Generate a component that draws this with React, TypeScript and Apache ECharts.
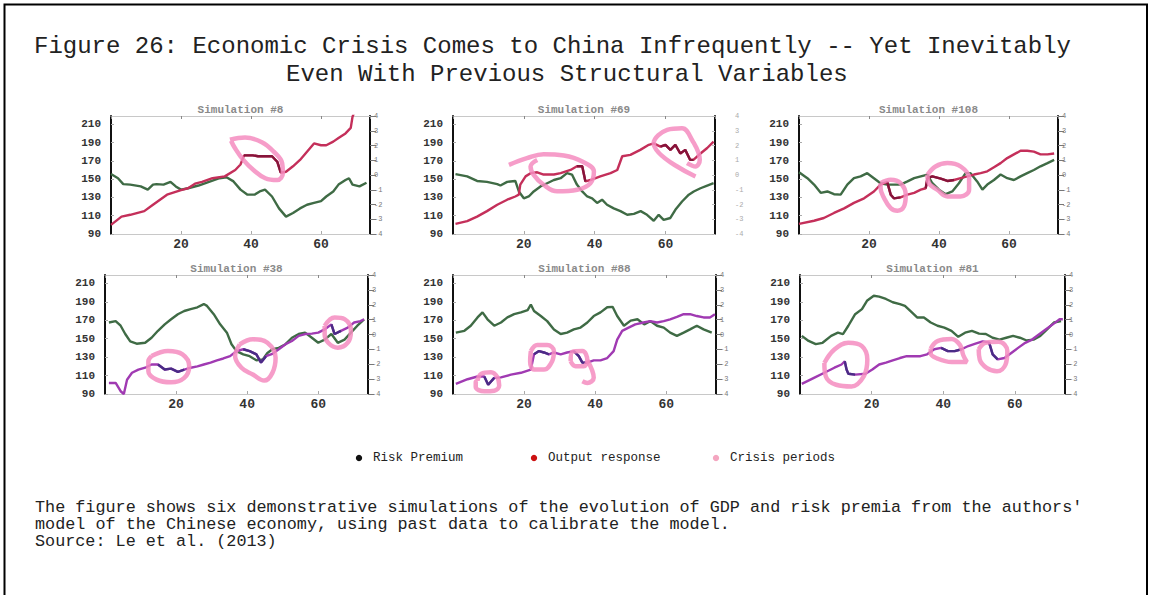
import React, { useEffect, useRef } from "react";
import * as echarts from "echarts";

const FONT = "'Liberation Mono', 'Courier New', monospace";

const titleLines = [
  "Figure 26: Economic Crisis Comes to China Infrequently -- Yet Inevitably",
  "Even With Previous Structural Variables",
];
const captionLines = [
  "The figure shows six demonstrative simulations of the evolution of GDP and risk premia from the authors'",
  "model of the Chinese economy, using past data to calibrate the model.",
  "Source: Le et al. (2013)",
];
const legendLabels = ["Risk Premium", "Output response", "Crisis periods"];
const panelTitles = [
  "Simulation #8",
  "Simulation #69",
  "Simulation #108",
  "Simulation #38",
  "Simulation #88",
  "Simulation #81",
];
const leftTicks = [90, 110, 130, 150, 170, 190, 210];
const rightTicks = [-4, -3, -2, -1, 0, 1, 2, 3, 4];
const xTicks = [20, 40, 60];

// ---- Simulation #8 ----
const sim1Risk = [[0,155.5],[2,151],[3.5,144.5],[5.5,144],[8.5,142],[10.5,138.5],[12,144],[13,144.5],[15,144],[17,147],[18.5,142],[20,138.5],[22,140],[25,143],[28,147],[31,151],[33,152],[35,147.5],[37,138.5],[39,133],[41,133],[42.5,136.5],[44,138.5],[46,131],[48,118],[50,109],[52,113],[54,118],[56,122],[58,124],[60,126],[61.5,131],[63.5,136.5],[65,144],[67,149],[68,151],[69,144],[71,142],[73,146]];
const sim1Output = [[0,100],[3,109],[5.5,111],[9.5,115],[12,122],[16,133],[20,138],[22,140],[24,145],[26,147],[29,151],[32.5,153],[35.5,160],[37,166],[38,176],[40.5,176],[42,175],[46,175],[47.5,169],[48.5,157],[50,158],[52,164],[54,171],[56,180],[58,189],[60,187],[61.5,187],[63.5,191],[65,195],[67,200],[68.5,206],[69,218],[70,228]];
const sim1Crisis = [
  [[34,193],[38.3,195.5],[43.1,190.4],[46.5,180],[48.9,167.5],[49.1,156.5],[47.5,149],[44.1,151],[40.7,160],[37.8,171],[35.4,184],[34.3,192]],
];
const sim1CrisisRanges = [[38, 48.5]];

// ---- Simulation #69 ----
const sim2Risk = [[0.7,155.5],[4,153],[6.8,148],[9.6,147],[12.5,144.5],[13.4,143],[15.3,147],[17.6,148],[18.6,136.5],[20,129],[21.4,131],[22.8,136.5],[24.7,142],[26.6,145.5],[28.5,149],[30.4,151],[32.2,156.5],[33.6,155],[35,144],[36.5,136.5],[37.9,131],[39.3,129],[40.7,124],[42.1,127.5],[43.5,122],[45.4,118],[47.3,115],[49.2,111],[51.1,112],[53,115],[54.8,111],[56.7,104.5],[58.1,111],[59.5,105.5],[61.4,107.5],[62.8,116.5],[64.7,125.5],[66.6,133],[68,136.5],[69.9,140],[71.8,143],[73.6,145.5]];
const sim2Output = [[0.7,101],[4,104],[6.8,109],[9.6,115],[12.5,122],[15.3,127.5],[17.6,131],[18.6,133],[19,144],[20.5,153],[21.9,156.5],[23.8,157.5],[25.6,155],[28.5,155],[30.4,156.5],[33.2,160],[35,164],[36.5,164],[37.4,147.5],[38.8,149],[41.6,153],[44.5,156.5],[46.4,160],[47.8,175],[50.1,176.5],[52.9,182],[55.3,187.5],[56.7,189],[58.6,185.5],[60,187.5],[61.4,182],[62.8,187.5],[64.2,178],[65.6,182],[67,171],[67.9,171],[69.9,178],[71.8,184],[73.6,191]];
const sim2Crisis = [
  [[15.8,165.6],[20.9,172.9],[25.6,177.3],[31.3,175.8],[36.5,169.3],[39.8,158.4],[38.8,145.6],[35.1,138.4],[29.4,136.6],[25.6,143.8],[22.8,154.7],[21.9,163.8],[23.8,171]],
  [[68.5,152.9],[56.7,189.3],[60.5,203.8],[64.7,205.6],[67.5,192.9],[69.7,171.1],[68.5,163.8],[66.1,167.5]],
];
const sim2CrisisRanges = [[35, 37.4], [58.6, 67.9]];

// ---- Simulation #108 ----
const sim3Risk = [[0,157.5],[2.4,151],[4.3,144],[6.2,135],[8.1,136.5],[10,133.5],[11.9,133],[13.8,144],[15.7,151],[17.6,153],[19.5,156.5],[21.4,151],[23.3,145.5],[25.2,144],[27.1,144],[29,144],[31,147.5],[32.9,151],[34.8,153],[36.7,155],[38.1,145.5],[40,138.5],[41.9,133.5],[43.8,136.5],[45.7,145.5],[47.6,156.5],[49,156.5],[50.9,147.5],[52.4,138.5],[53.8,144],[55.7,149],[57.6,155],[59.5,151],[61.4,149],[63.3,153],[65.2,156.5],[67.1,160],[69,164],[71,167.5],[72.9,171]];
const sim3Output = [[0,101],[4.3,104.5],[7.1,107.5],[10,113],[12.9,118],[15.7,124],[18.6,129],[21.4,136.5],[23.3,144],[25.2,147],[26.2,133],[27.1,129],[29,130],[31,133],[32.9,135],[34.8,138.5],[36.2,140],[36.7,151],[38.1,153],[40.5,150.5],[42.4,148],[44.3,149],[46.2,151],[48.1,153],[50,155],[51.9,156.5],[53.8,158.5],[55.7,163],[57.6,167.5],[59.5,173],[61.4,177],[63.3,181],[65.2,181],[67.1,180],[69,177],[71,177],[72.9,178]];
const sim3Crisis = [
  [[23.3,145.6],[26.2,149.3],[29,145.6],[30.5,132.9],[30,120.2],[28.1,115.5],[26.2,118.4],[24.3,129.3],[23.3,140.2],[23.3,145.6]],
  [[36.7,154.7],[39,163.8],[42.4,167.5],[46.2,163.8],[48.6,151.1],[48.6,138.4],[46.2,131.1],[42.4,131.1],[39.5,138.4],[37.1,145.6],[36.7,154.7]],
];
const sim3CrisisRanges = [[25.2, 29], [36.2, 44.3]];

// ---- Simulation #38 ----
const sim4Risk = [[1.1,167.5],[3,169],[4.4,164],[5.7,155],[7.1,147],[8.9,144.5],[11.3,145.5],[13.1,151],[14.9,158.5],[16.8,165.5],[18.6,171],[20.5,176.5],[22.3,180],[24.1,182],[26,184],[27.8,187.5],[28.7,185.5],[30.6,176.5],[32.4,165.5],[34.3,156.5],[35.6,144],[37,136.5],[38.9,133],[40.7,131],[42.6,126.5],[44.4,127.5],[45.7,134.5],[47.1,138.5],[48.9,140],[50.8,144],[52.6,151],[54.5,155],[56.3,156.5],[58.2,151],[60,145.5],[61.8,149],[63.7,155],[65.5,145.5],[67.4,149],[69.2,156.5],[71,164],[72.9,171]];
const sim4Output = [[1.1,102],[3,102],[4.4,93],[5.3,90],[6.2,105.5],[7.6,113],[9.4,116.5],[11.3,118.5],[13.1,122],[14.9,122],[16.8,116.5],[18.6,117.5],[20.5,114],[22.3,116.5],[24.1,118.5],[26,120],[27.8,122],[29.7,124],[31.5,126.5],[33.3,128.5],[35.2,131],[37,136.5],[38.9,138.5],[40.7,136.5],[42.6,133],[43.9,124],[45.3,131],[47.1,133.5],[48.9,138.5],[50.8,144],[52.6,147.5],[54.5,153],[56.3,155],[58.2,155.5],[60,156.5],[61.8,160],[63.7,165.5],[64.6,155],[66.4,158.5],[68.3,162],[70.1,167.5],[71.9,169],[72.9,171]];
const sim4Crisis = [
  [[13.1,131.1],[17.7,136.5],[21.8,132.9],[23.7,120.2],[22.3,107.5],[18.6,102.7],[14.5,105.6],[12.2,114.7],[12.2,125.6],[13.1,131.1]],
  [[37.9,143.8],[41.6,149.3],[45.7,145.6],[48,129.3],[47.1,112.9],[44.8,104.5],[41.6,111.1],[38.4,118.4],[36.6,131.1],[37.9,143.8]],
  [[61.8,163.8],[64.6,172.9],[67.4,171.1],[69.2,158.4],[68.3,145.6],[65.5,140.2],[62.8,145.6],[61.8,154.7],[61.8,163.8]],
];
const sim4CrisisRanges = [[14.9, 22.3], [38.9, 45.3], [63.7, 66.4]];

// ---- Simulation #88 ----
const sim5Risk = [[0.8,156.5],[3.2,158.5],[5,164],[6.9,173],[8.3,178.5],[9.7,171],[11.6,164],[13.5,167.5],[15.3,173],[17.2,176.5],[19.1,178.5],[21,181],[21.9,187],[22.8,180],[24.7,174.5],[26.5,169],[28.4,160],[30.3,155],[32.1,156.5],[34,160],[35.9,162],[37.8,167.5],[39.6,174.5],[41.5,178.5],[43.4,184],[44.9,184.5],[46.2,174.5],[48.1,164],[50,169.5],[51.9,171],[53.8,165.5],[55.5,169],[57.4,164],[59.3,162],[61.1,156.5],[63,153],[64.9,156.5],[66.7,160],[68.6,164],[70.5,160],[72.8,156.5]];
const sim5Output = [[0.8,101],[4.1,106],[6.9,109],[8.8,109],[9.9,100],[11.6,107.5],[13.5,108],[16.3,111],[19.1,113],[21.9,116.5],[22.8,133],[24.2,136.5],[25.6,135],[27,133],[28.4,135],[30.3,133],[32.1,135],[34,136.5],[35.4,131],[36.4,124],[37.8,124],[39.6,126.5],[41.5,126.5],[43.4,129],[45.2,136.5],[46.2,149],[47.6,158.5],[49.4,162],[51.3,165.5],[53.6,167.5],[55.5,169],[57.4,167.5],[59.3,169],[61.1,171],[63,173.5],[64.9,176.5],[66.7,176.5],[68.6,174.5],[70.5,173],[72.3,173],[73.7,176.5]];
const sim5Crisis = [
  [[6.9,104.5],[7.9,111.8],[10.7,113.6],[12.5,108.2],[13,99.1],[11.6,93.6],[8.8,92.9],[6.4,97.5],[6.4,103],[6.9,104.5]],
  [[21.9,136.6],[23.7,143.1],[26.5,143.1],[28.4,136.6],[27.9,125.6],[25.6,116.6],[22.8,116.6],[21.7,125.6],[21.9,136.6]],
  [[33.1,125.6],[33.6,135.8],[36.4,136.6],[37.8,126.4],[36.8,120.2],[34.5,120.2],[33.1,125.6]],
  [[37.8,126.4],[39.6,107.5],[37.8,102],[36.4,103.8]],
];
const sim5CrisisRanges = [[8.8, 11.6], [22.8, 27], [34, 37.8]];

// ---- Simulation #81 ----
const sim6Risk = [[0.5,153],[2.4,147.5],[4.4,144],[6.3,145.5],[8.7,153],[10.6,156.5],[12,155],[13.5,164],[15.4,176.5],[17.3,182],[18.7,191],[20.6,196.5],[22.1,195.5],[24,193],[25.9,189.5],[27.9,187.5],[29.3,185.5],[30.8,180],[32.7,173],[34.6,173],[36.5,167.5],[38.4,164],[40.3,162],[42.3,158.5],[44.2,152],[46.1,156.5],[48,158.5],[50,155.5],[51.9,155],[53.8,151],[55.7,149],[57.6,151],[59.5,153],[61.4,151],[63.3,148],[65.2,149],[67.1,153],[69,160],[70.9,167.5],[72.9,169]];
const sim6Output = [[0.5,101],[3.9,107.5],[6.8,113],[9.6,118.5],[11.6,122],[12.5,125.5],[13,116.5],[13.5,112],[15.4,111],[18.3,112],[20.2,116.5],[22.1,122],[24,124],[25.9,126.5],[27.9,129],[29.8,131],[31.7,131],[33.6,131],[35.5,133],[37.5,138.5],[39.4,140],[41.3,136.5],[43.2,136.5],[45.1,138.5],[47,142],[49,144.5],[51,147],[52.8,146],[53.8,133],[55.2,127.5],[57.1,129],[59,134.5],[60.9,140],[62.9,145.5],[64.8,149],[66.7,154.5],[68.6,160],[70.6,165.5],[72.5,171],[73.4,171]];
const sim6Crisis = [
  [[6.8,123.6],[9.6,138.2],[13.5,145.5],[17.3,141.9],[18.8,127.3],[17.8,109.1],[14.4,98.2],[10.1,100],[7.2,109.1],[6.8,123.6]],
  [[36.5,139.3],[38.4,147.3],[42.3,149.5],[44.7,142.9],[45.6,132],[46.6,124.7],[42.3,124.7],[38.4,128.4],[36.5,133.8],[36.5,139.3]],
  [[49.9,138.4],[51.8,145.6],[55.5,146.7],[57.9,136.6],[57.4,122],[55,114.7],[52.1,118.4],[50.2,127.3],[49.9,138.4]],
];
const sim6CrisisRanges = [[12.5, 15.4], [39.4, 45.1], [52.8, 55.2]];

const riskSeries = [sim1Risk, sim2Risk, sim3Risk, sim4Risk, sim5Risk, sim6Risk];
const outputSeries = [sim1Output, sim2Output, sim3Output, sim4Output, sim5Output, sim6Output];
const crisisSeries = [sim1Crisis, sim2Crisis, sim3Crisis, sim4Crisis, sim5Crisis, sim6Crisis];
const crisisRanges = [sim1CrisisRanges, sim2CrisisRanges, sim3CrisisRanges, sim4CrisisRanges, sim5CrisisRanges, sim6CrisisRanges];

// layout (pixels) for each panel
const layout = [
  { left: 111, top: 116, width: 259, height: 118 },
  { left: 453, top: 116, width: 262, height: 118 },
  { left: 799, top: 116, width: 259, height: 118 },
  { left: 105, top: 275, width: 263, height: 119 },
  { left: 453, top: 275, width: 263, height: 119 },
  { left: 800, top: 275, width: 265, height: 119 },
];

const GREEN = "#3f6b45";
const RED = "#c42f5a";
const DARK_RED = "#86143a";
const PURPLE = "#a03ab2";
const DARK_PURPLE = "#4a2c86";
const PINK = "#f58cbf";

function txt(text: string, x: number, y: number, fontSize: number, fill: string, align = "left", weight = "normal") {
  return {
    type: "text", x, y, silent: true,
    style: {
      text, fontFamily: FONT, fontSize, fontWeight: weight, fill,
      align, verticalAlign: "middle", textAlign: align, textVerticalAlign: "middle",
    },
  };
}

function buildOption() {
  const grid: any[] = [];
  const xAxis: any[] = [];
  const yAxis: any[] = [];
  const series: any[] = [];
  const graphic: any[] = [];

  graphic.push({
    type: "polyline",
    shape: { points: [[4.5, 600], [4.5, 4.5], [1147, 4.5], [1147, 600]] },
    style: { stroke: "#000", lineWidth: 2, fill: null },
    silent: true,
  });
  graphic.push(txt(titleLines[0], 34, 46, 24, "#222"));
  graphic.push(txt(titleLines[1], 286, 74, 24, "#222"));

  const legendColors = ["#111", "#cc1111", "#f4a6c0"];
  const legendX = [359, 534, 716];
  legendLabels.forEach((lab, i) => {
    graphic.push({ type: "circle", silent: true, shape: { cx: legendX[i], cy: 458, r: 3.2 }, style: { fill: legendColors[i] } });
    graphic.push(txt(lab, legendX[i] + 14, 458, 12.5, "#222"));
  });

  captionLines.forEach((line, i) => {
    graphic.push(txt(line, 35, 507 + i * 17, 16.8, "#222"));
  });

  layout.forEach((L, i) => {
    const topRow = i < 3;
    grid.push({ left: L.left, top: L.top, width: L.width, height: L.height, show: false, containLabel: false, outerBoundsMode: "none" });
    graphic.push(txt(panelTitles[i], L.left + L.width / 2, L.top - 6, 11, "#8a8a8a", "center", "bold"));
    xAxis.push({
      type: "value", gridIndex: i, min: 0, max: 74, interval: 20, position: "bottom",
      axisLine: { show: true, onZero: false, lineStyle: { color: "#c8c8c8", width: 1 } },
      axisTick: { show: true, inside: true, length: 3, lineStyle: { color: "#aaa" } },
      axisLabel: {
        show: true, margin: 4, fontFamily: FONT, fontSize: 13, fontWeight: "bold", color: "#333",
        showMinLabel: false, showMaxLabel: false,
        formatter: (v: number) => (xTicks.includes(v) ? String(v) : ""),
      },
      splitLine: { show: false },
    });
    xAxis.push({
      type: "value", gridIndex: i, min: 0, max: 74, interval: 20, position: "top",
      axisLine: { show: true, onZero: false, lineStyle: { color: "#c8c8c8", width: 1 } },
      axisTick: { show: true, inside: true, length: 3, lineStyle: { color: "#888" } },
      axisLabel: { show: false },
      splitLine: { show: false },
    });
    yAxis.push({
      type: "value", gridIndex: i, min: 90, max: 219, interval: 20, position: "left",
      axisLine: { show: true, onZero: false, lineStyle: { color: "#111", width: 2 } },
      axisTick: { show: true, inside: true, length: 3, lineStyle: { color: "#aaa" } },
      axisLabel: {
        show: true, margin: 10, fontFamily: FONT, fontSize: 11, fontWeight: "bold", color: "#333",
        showMaxLabel: false,
        formatter: (v: number) => (leftTicks.includes(v) ? String(v) : ""),
      },
      splitLine: { show: false },
    });
    const lightRight = i === 1;
    yAxis.push({
      type: "value", gridIndex: i, min: -4, max: 4, interval: 1, position: "right",
      axisLine: { show: true, onZero: false, lineStyle: { color: "#111", width: 2 } },
      axisTick: { show: true, inside: lightRight, length: lightRight ? 3 : 6, lineStyle: { color: lightRight ? "#bbb" : "#777" } },
      axisLabel: {
        show: true, margin: lightRight ? 20 : 4, fontFamily: FONT, fontSize: 7, color: lightRight ? "#aaa" : "#777",
        formatter: (v: number) => (rightTicks.includes(v) ? String(v) : ""),
      },
      splitLine: { show: false },
    });

    const xi = i * 2;
    const yi = i * 2;
    series.push({
      type: "line", name: "Risk Premium", xAxisIndex: xi, yAxisIndex: yi,
      data: riskSeries[i], showSymbol: false, symbol: "none",
      lineStyle: { color: GREEN, width: 2.4 }, z: 3, clip: true,
    });
    series.push({
      type: "line", name: "Output response", xAxisIndex: xi, yAxisIndex: yi,
      data: outputSeries[i], showSymbol: false, symbol: "none",
      lineStyle: { color: topRow ? RED : PURPLE, width: 2.4 }, z: 4, clip: true,
    });
    crisisRanges[i].forEach(([a, b]) => {
      series.push({
        type: "line", name: "Crisis output", xAxisIndex: xi, yAxisIndex: yi,
        data: outputSeries[i].filter((p) => p[0] >= a && p[0] <= b),
        showSymbol: false, symbol: "none",
        lineStyle: { color: topRow ? DARK_RED : DARK_PURPLE, width: 2.4 }, z: 4, clip: true,
      });
    });
    crisisSeries[i].forEach((loop) => {
      series.push({
        type: "line", name: "Crisis periods", xAxisIndex: xi, yAxisIndex: yi,
        data: loop, showSymbol: false, symbol: "none", smooth: 0.4,
        lineStyle: { color: PINK, width: 4.5, opacity: 0.85 }, z: 5, clip: false,
      });
    });
  });

  return {
    animation: false,
    backgroundColor: "#fff",
    grid, xAxis, yAxis, series, graphic,
    tooltip: { show: false },
  };
}

export default function App() {
  const ref = useRef<HTMLDivElement>(null);
  useEffect(() => {
    document.body.style.margin = "0";
    document.body.style.overflow = "hidden";
    if (!ref.current) return;
    const chart = echarts.init(ref.current, null, { renderer: "svg" });
    chart.setOption(buildOption() as any);
    return () => chart.dispose();
  }, []);
  return (
    <div
      ref={ref}
      style={{ position: "absolute", left: 0, top: 0, width: 1151, height: 595, background: "#fff" }}
    />
  );
}
